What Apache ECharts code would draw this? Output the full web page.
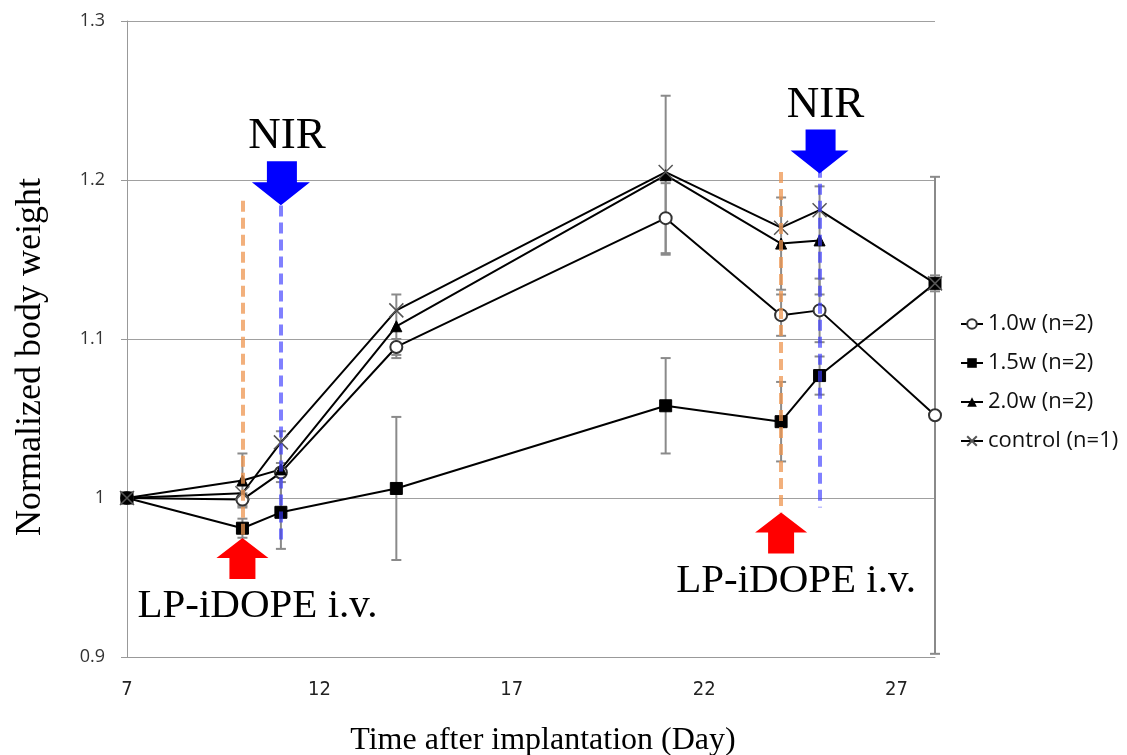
<!DOCTYPE html>
<html>
<head>
<meta charset="utf-8">
<script src="https://cdn.jsdelivr.net/npm/echarts@6/dist/echarts.min.js"></script>
<style>
  html, body { margin: 0; padding: 0; background: #fff; }
  #chartView { width: 1127px; height: 755px; }
</style>
</head>
<body>
<div id="chartView"></div>
<script>
// data
var days = [7, 10, 11, 14, 21, 24, 25, 28];
var w10 = [1.000, 0.999, 1.016, 1.095, 1.176, 1.115, 1.118, 1.052];
var w15 = [1.000, 0.981, 0.991, 1.006, 1.058, 1.048, 1.077, 1.135];
var w20 = [1.000, 1.011, 1.018, 1.108, 1.203, 1.160, 1.162];
var ctrl = [1.000, 1.003, 1.035, 1.118, 1.205, 1.170, 1.181, 1.135];
var sd10 = [0, 0.004, 0.006, 0.005, 0.022, 0.013, 0.020, 0.150];
var sd15 = [0, 0.006, 0.023, 0.045, 0.030, 0.025, 0.012, 0.005];
var sd20 = [0, 0.017, 0.024, 0.020, 0.050, 0.029, 0.034];
var names = ['1.0w (n=2)', '1.5w (n=2)', '2.0w (n=2)', 'control (n=1)'];
var xTicks = [7, 12, 17, 22, 27];

// annotations
var injDays = [10, 24];
var nirDays = [11, 25];
var injLines = [[1.187, 0.974], [1.205, 0.991]];
var nirLines = [[1.184, 0.973], [1.219, 0.994]];
var injArrowY = [0.962, 0.978];
var nirArrowY = [1.198, 1.218];

var serif = 'Liberation Serif, Times New Roman, serif';

function pairs(ys) {
    return ys.map(function (v, i) { return [days[i], v]; });
}
function errData(ys, sd) {
    var out = [];
    ys.forEach(function (v, i) {
        if (sd[i] > 0) out.push([days[i], v - sd[i], v + sd[i]]);
    });
    return out;
}
var errAll = errData(w10, sd10).concat(errData(w15, sd15), errData(w20, sd20));

var crossPath = 'path://M0,0L10,10M10,0L0,10';
var downArrow = 'path://M15,0L45,0L45,21L58,21L29,44L0,21L15,21Z';
var upArrow = 'path://M26,0L52,20L39,20L39,41L13,41L13,20L0,20Z';

var myChart = echarts.init(document.getElementById('chartView'));

var lineBase = {
    type: 'line',
    z: 3,
    lineStyle: { color: '#000', width: 2 },
    itemStyle: { color: '#000', borderColor: '#000' },
    emphasis: { disabled: true }
};

var markLines = [];
injDays.forEach(function (d, i) {
    markLines.push([
        { coord: [d, injLines[i][0]], lineStyle: { color: 'rgba(238,150,80,0.75)' } },
        { coord: [d, injLines[i][1]] }
    ]);
});
nirDays.forEach(function (d, i) {
    markLines.push([
        { coord: [d, nirLines[i][0]], lineStyle: { color: 'rgba(60,60,255,0.65)' } },
        { coord: [d, nirLines[i][1]] }
    ]);
});

var markPoints = [];
nirDays.forEach(function (d, i) {
    markPoints.push({
        coord: [d, nirArrowY[i]],
        symbol: downArrow,
        symbolSize: [58, 44],
        itemStyle: { color: '#0000ff' },
        label: {
            show: true, position: 'top', distance: 2, formatter: 'NIR',
            offset: [6, 0], color: '#000', fontFamily: serif, fontSize: 45
        }
    });
});
injDays.forEach(function (d, i) {
    markPoints.push({
        coord: [d, injArrowY[i]],
        symbol: upArrow,
        symbolSize: [52, 41],
        itemStyle: { color: '#ff0000' },
        label: {
            show: true, position: 'bottom', distance: 7, formatter: 'LP-iDOPE i.v.',
            offset: [15, 0], color: '#000', fontFamily: serif, fontSize: 41
        }
    });
});

var options = {
    animation: false,
    backgroundColor: '#fff',
    grid: { left: 127, top: 21, right: 192, bottom: 98, outerBoundsMode: 'none', containLabel: false },
    legend: {
        orient: 'vertical',
        left: 955,
        top: 308,
        itemGap: 17,
        itemWidth: 22,
        itemHeight: 12,
        textStyle: { fontFamily: 'Open Sans, sans-serif', fontSize: 22, color: '#111' },
        data: names
    },
    xAxis: {
        type: 'value',
        min: 7,
        max: 28,
        splitLine: { show: false },
        axisTick: { show: false },
        axisLine: { lineStyle: { color: '#999', width: 1 } },
        axisLabel: {
            customValues: xTicks,
            margin: 23,
            color: '#222',
            fontFamily: 'Liberation Sans Narrow, DejaVu Sans Condensed, sans-serif',
            fontSize: 20
        },
        name: 'Time after implantation (Day)',
        nameLocation: 'middle',
        nameGap: 68,
        nameTextStyle: { fontFamily: serif, fontSize: 32, color: '#000', padding: [0, 0, 0, 24] }
    },
    yAxis: {
        type: 'value',
        min: 0.9,
        max: 1.3,
        interval: 0.1,
        splitLine: { show: true, lineStyle: { color: '#a0a0a0', width: 1 } },
        axisLine: { show: true, lineStyle: { color: '#999', width: 1 } },
        axisTick: { show: true, inside: false, length: 6, lineStyle: { color: '#999' } },
        axisLabel: {
            margin: 22,
            color: '#333',
            fontFamily: 'Open Sans, sans-serif',
            fontSize: 18
        },
        name: 'Normalized body weight',
        nameLocation: 'middle',
        nameGap: 78,
        nameTextStyle: { fontFamily: serif, fontSize: 36, color: '#000', padding: [0, 36, 0, 0] }
    },
    series: [
        {
            type: 'custom',
            name: 'err',
            z: 2,
            silent: true,
            data: errAll,
            encode: { x: 0, y: [1, 2] },
            renderItem: function (params, api) {
                var p1 = api.coord([api.value(0), api.value(1)]);
                var p2 = api.coord([api.value(0), api.value(2)]);
                var st = { stroke: '#8a8a8a', lineWidth: 2 };
                return {
                    type: 'group',
                    children: [
                        { type: 'line', shape: { x1: p1[0], y1: p1[1], x2: p2[0], y2: p2[1] }, style: st },
                        { type: 'line', shape: { x1: p1[0] - 5, y1: p1[1], x2: p1[0] + 5, y2: p1[1] }, style: st },
                        { type: 'line', shape: { x1: p2[0] - 5, y1: p2[1], x2: p2[0] + 5, y2: p2[1] }, style: st }
                    ]
                };
            }
        },
        Object.assign({}, lineBase, {
            name: names[0], data: pairs(w10), symbol: 'emptyCircle', symbolSize: 12,
            itemStyle: { color: '#333', borderColor: '#333', borderWidth: 1.3 }
        }),
        Object.assign({}, lineBase, {
            name: names[1], data: pairs(w15), symbol: 'rect', symbolSize: 12
        }),
        Object.assign({}, lineBase, {
            name: names[2], data: pairs(w20), symbol: 'triangle', symbolSize: 11
        }),
        Object.assign({}, lineBase, {
            name: names[3], data: pairs(ctrl), symbol: crossPath, symbolSize: 14,
            itemStyle: { color: 'rgba(0,0,0,0)', borderColor: '#555', borderWidth: 1.5 }
        }),
        {
            type: 'scatter',
            name: 'annot',
            z: 5,
            data: [],
            silent: true,
            markLine: {
                silent: true,
                symbol: ['none', 'none'],
                label: { show: false },
                lineStyle: { type: [11, 6], width: 4 },
                data: markLines
            },
            markPoint: {
                silent: true,
                data: markPoints
            }
        }
    ]
};
myChart.setOption(options);
</script>
</body>
</html>
